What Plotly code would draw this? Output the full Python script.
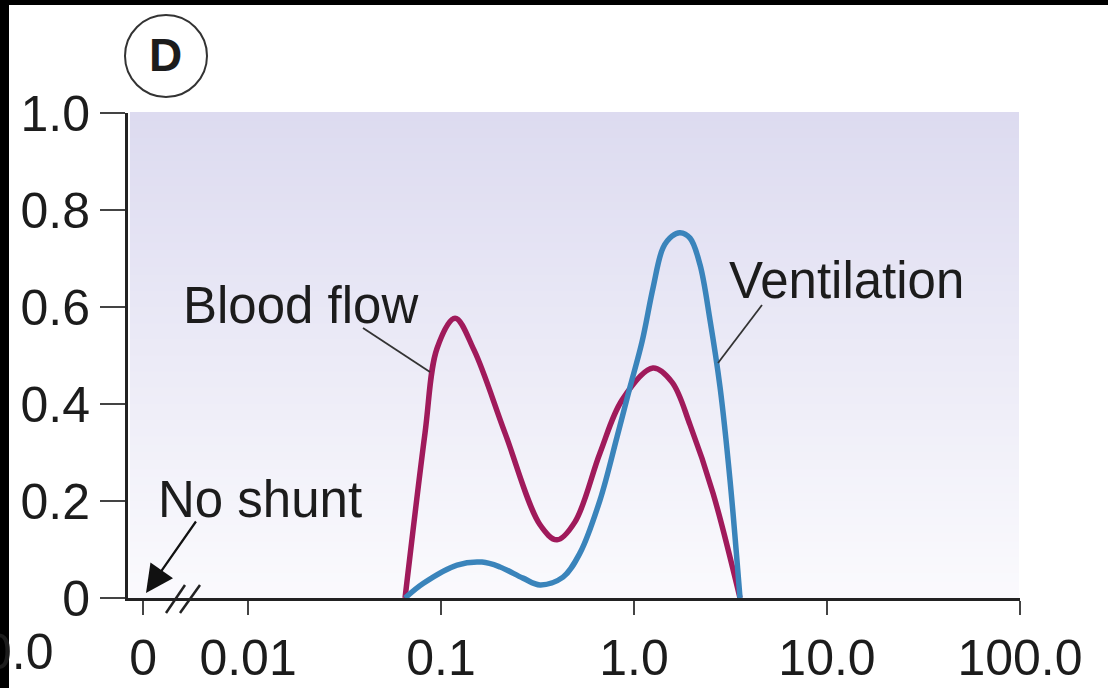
import plotly.graph_objects as go

# ---- data ----
blood_x = [0.0651, 0.0826, 0.0954, 0.1182, 0.1483, 0.2146, 0.3258,
           0.399, 0.4945, 0.6664, 0.8666, 1.254, 1.573, 1.951, 2.567, 3.541]
blood_y = [0.0, 0.340, 0.515, 0.577, 0.511, 0.340, 0.151,
           0.120, 0.157, 0.299, 0.408, 0.474, 0.445, 0.357, 0.216, 0.0]

vent_x = [0.0651, 0.0807, 0.1211, 0.1631, 0.2021, 0.266, 0.3258, 0.4286, 0.5252,
          0.6664, 0.8163, 0.9535, 1.100, 1.254, 1.413, 1.573, 1.731, 1.951, 2.198,
          2.476, 2.79, 3.144, 3.541]
vent_y = [0.0, 0.03, 0.068, 0.074, 0.064, 0.041, 0.027, 0.043, 0.093,
          0.202, 0.332, 0.435, 0.528, 0.639, 0.722, 0.746, 0.753, 0.742, 0.687,
          0.573, 0.435, 0.243, 0.0]

x_tickvals = [0.002858, 0.01, 0.1, 1, 10, 100]
x_ticktext = ["0", "0.01", "0.1", "1.0", "10.0", "100.0"]
y_tickvals = [0, 0.2, 0.4, 0.6, 0.8, 1.0]
y_ticktext = ["0", "0.2", "0.4", "0.6", "0.8", "1.0"]

# ---- layout geometry (pixels) ----
W, H = 1108, 688
L, R, T, B = 128, 1020, 113, 598
FONT = "Liberation Sans, Arial, Helvetica, sans-serif"
TXT = "#1c1c1c"


def px(x):
    return (x - L) / (R - L)


def py(y):
    return (B - y) / (B - T)


fig = go.Figure()
fig.add_trace(go.Scatter(x=blood_x, y=blood_y, mode="lines", name="Blood flow",
                         line=dict(color="#a01a5b", width=5.5, shape="spline", smoothing=1.0),
                         cliponaxis=False, showlegend=False))
fig.add_trace(go.Scatter(x=vent_x, y=vent_y, mode="lines", name="Ventilation",
                         line=dict(color="#3a84bb", width=5.5, shape="spline", smoothing=1.0),
                         cliponaxis=False, showlegend=False))

shapes = []
# gradient background
n = 60
top = (221, 219, 240)
bot = (250, 250, 253)
for i in range(n):
    f = i / (n - 1)
    c = tuple(int(round(bot[k] + (top[k] - bot[k]) * f)) for k in range(3))
    shapes.append(dict(type="rect", xref="paper", yref="paper",
                       x0=px(130), x1=px(1019), y0=i / n, y1=(i + 1) / n + 0.002,
                       fillcolor="rgb(%d,%d,%d)" % c, line=dict(width=0), layer="below"))
# axis break marks
for (xa, xb) in [(166, 185), (180, 200)]:
    shapes.append(dict(type="line", xref="paper", yref="paper",
                       x0=px(xa), y0=py(613), x1=px(xb), y1=py(585),
                       line=dict(color="#222", width=2.5), layer="above"))
# leader lines
shapes.append(dict(type="line", xref="paper", yref="paper",
                   x0=px(363), y0=py(328), x1=px(430), y1=py(372),
                   line=dict(color="#333", width=1.8)))
shapes.append(dict(type="line", xref="paper", yref="paper",
                   x0=px(762), y0=py(305), x1=px(718), y1=py(363),
                   line=dict(color="#333", width=1.8)))
# circle around D
shapes.append(dict(type="circle", xref="paper", yref="paper",
                   x0=px(125), x1=px(207), y0=py(97), y1=py(15),
                   line=dict(color="#333", width=2), fillcolor="white"))
# black border strips
shapes.append(dict(type="rect", xref="paper", yref="paper",
                   x0=px(-5), x1=px(W + 5), y0=py(5), y1=py(-5),
                   fillcolor="black", line=dict(width=0), layer="above"))
shapes.append(dict(type="rect", xref="paper", yref="paper",
                   x0=px(-5), x1=px(9), y0=py(H + 5), y1=py(-5),
                   fillcolor="black", line=dict(width=0), layer="above"))


def label(text, x, y, size, anchor="center"):
    return dict(text=text, x=px(x), y=py(y), xref="paper", yref="paper",
                xanchor=anchor, yanchor="middle", showarrow=False,
                font=dict(size=size, color=TXT, family=FONT))


annotations = [
    label("<b>D</b>", 165, 55, 46),
    label("Blood flow", 300, 305, 51),
    label("Ventilation", 846, 280, 51),
    label("No shunt", 260, 499, 51),
    label("0.0", 56, 652, 50, anchor="right"),
    dict(text="", x=px(146), y=py(593), xref="paper", yref="paper",
         showarrow=True, ax=51, ay=-73, arrowhead=2, arrowsize=2.5,
         arrowwidth=2.2, arrowcolor="#111"),
]

fig.update_layout(
    width=W, height=H,
    margin=dict(l=L, r=W - R, t=T, b=H - B, pad=0),
    paper_bgcolor="white", plot_bgcolor="white",
    shapes=shapes, annotations=annotations,
    font=dict(family=FONT, color=TXT),
    xaxis=dict(type="log", range=[-2.622, 2.0], tickvals=x_tickvals, ticktext=x_ticktext,
               automargin=False,
               showgrid=False, zeroline=False, showline=True, linecolor="#222", linewidth=3,
               ticks="outside", ticklen=14, tickwidth=2, tickcolor="#444",
               tickfont=dict(size=50, color=TXT, family=FONT)),
    yaxis=dict(range=[0, 1.0], tickvals=y_tickvals, ticktext=y_ticktext,
               automargin=False,
               showgrid=False, zeroline=False, showline=True, linecolor="#222", linewidth=3,
               ticks="outside", ticklen=25, tickwidth=2, tickcolor="#444",
               tickfont=dict(size=50, color=TXT, family=FONT)),
)

fig.write_html("out.html")
